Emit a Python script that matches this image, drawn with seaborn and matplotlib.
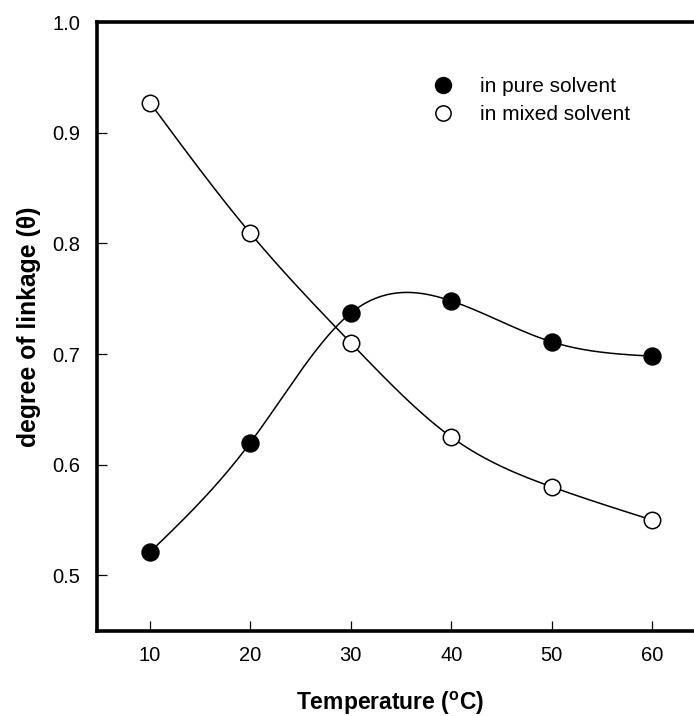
import numpy as np
import pandas as pd
import matplotlib
matplotlib.use("Agg")
import matplotlib.pyplot as plt
from matplotlib.lines import Line2D
import seaborn as sns

# ---- data ----
temperature = [10, 20, 30, 40, 50, 60]
pure_solvent = [0.521, 0.620, 0.737, 0.748, 0.711, 0.698]
mixed_solvent = [0.927, 0.809, 0.710, 0.625, 0.580, 0.550]
series_names = ["in pure solvent", "in mixed solvent"]
x_ticks = [10, 20, 30, 40, 50, 60]
y_ticks = [0.5, 0.6, 0.7, 0.8, 0.9, 1.0]


def natural_spline(x, y, n=300):
    x = np.asarray(x, float)
    y = np.asarray(y, float)
    k = len(x)
    h = np.diff(x)
    A = np.zeros((k, k))
    b = np.zeros(k)
    A[0, 0] = 1
    A[-1, -1] = 1
    for i in range(1, k - 1):
        A[i, i - 1] = h[i - 1]
        A[i, i] = 2 * (h[i - 1] + h[i])
        A[i, i + 1] = h[i]
        b[i] = 6 * ((y[i + 1] - y[i]) / h[i] - (y[i] - y[i - 1]) / h[i - 1])
    M = np.linalg.solve(A, b)
    xs = np.linspace(x[0], x[-1], n)
    idx = np.clip(np.searchsorted(x, xs) - 1, 0, k - 2)
    x0, x1 = x[idx], x[idx + 1]
    hh = x1 - x0
    ys = (M[idx] * (x1 - xs) ** 3 / (6 * hh) + M[idx + 1] * (xs - x0) ** 3 / (6 * hh)
          + (y[idx] / hh - M[idx] * hh / 6) * (x1 - xs)
          + (y[idx + 1] / hh - M[idx + 1] * hh / 6) * (xs - x0))
    return xs, ys


sns.set_theme(style="ticks")
plt.rcParams["font.family"] = ["Liberation Sans", "DejaVu Sans"]
plt.rcParams["text.color"] = "black"
plt.rcParams["axes.labelcolor"] = "black"

fig = plt.figure(figsize=(6.94, 7.16), dpi=100)
ax = fig.add_axes([97 / 694, 1 - 631 / 716, 597 / 694, 609 / 716])

curves = []
for name, vals in zip(series_names, [pure_solvent, mixed_solvent]):
    xs, ys = natural_spline(temperature, vals)
    curves.append(pd.DataFrame({"T": xs, "v": ys, "s": name}))
curve_df = pd.concat(curves, ignore_index=True)
sns.lineplot(data=curve_df, x="T", y="v", units="s", estimator=None,
             color="black", linewidth=1.1, ax=ax, zorder=2)

pts = pd.DataFrame({"T": temperature * 2,
                    "v": pure_solvent + mixed_solvent,
                    "s": [series_names[0]] * 6 + [series_names[1]] * 6})
sns.scatterplot(data=pts[pts.s == series_names[0]], x="T", y="v", color="black",
                edgecolor="black", s=150, linewidth=1, ax=ax, zorder=3, legend=False)
sns.scatterplot(data=pts[pts.s == series_names[1]], x="T", y="v", color="white",
                edgecolor="black", s=140, linewidth=1.1, ax=ax, zorder=3, legend=False)

ax.set_xlim(4.72, 64.18)
ax.set_ylim(0.4497, 1.0)
ax.set_xticks(x_ticks)
ax.set_yticks(y_ticks)
ax.set_yticklabels([f"{v:.1f}" for v in y_ticks])
ax.tick_params(direction="in", length=7, width=0.9, labelsize=14.5, colors="black")
ax.tick_params(axis="y", pad=12)
ax.tick_params(axis="x", pad=11)
for side in ["left", "bottom", "top"]:
    ax.spines[side].set_linewidth(2.6)
    ax.spines[side].set_color("black")
ax.spines["right"].set_visible(False)

ax.set_xlabel("Temperature ($\\mathregular{^o}$C)", fontsize=16.5, fontweight="bold",
              color="black")
ax.set_ylabel("degree of linkage (θ)", fontsize=17.8, fontweight="bold", color="black")
ax.xaxis.set_label_coords(0.491, -0.097)
ax.yaxis.set_label_coords(-0.094, 0.5)

handles = [Line2D([], [], linestyle="none", marker="o", markersize=11.5,
                  markerfacecolor="black", markeredgecolor="black"),
           Line2D([], [], linestyle="none", marker="o", markersize=11,
                  markerfacecolor="white", markeredgecolor="black", markeredgewidth=1.1)]
leg = fig.legend(handles, series_names, loc="upper left",
                 bbox_to_anchor=(432.6 / 694, 1 - 77 / 716), frameon=False,
                 fontsize=15, handlelength=1.0, handletextpad=1.28,
                 labelspacing=0.45, borderpad=0, borderaxespad=0, labelcolor="black")

fig.savefig("out.png", dpi=100)
